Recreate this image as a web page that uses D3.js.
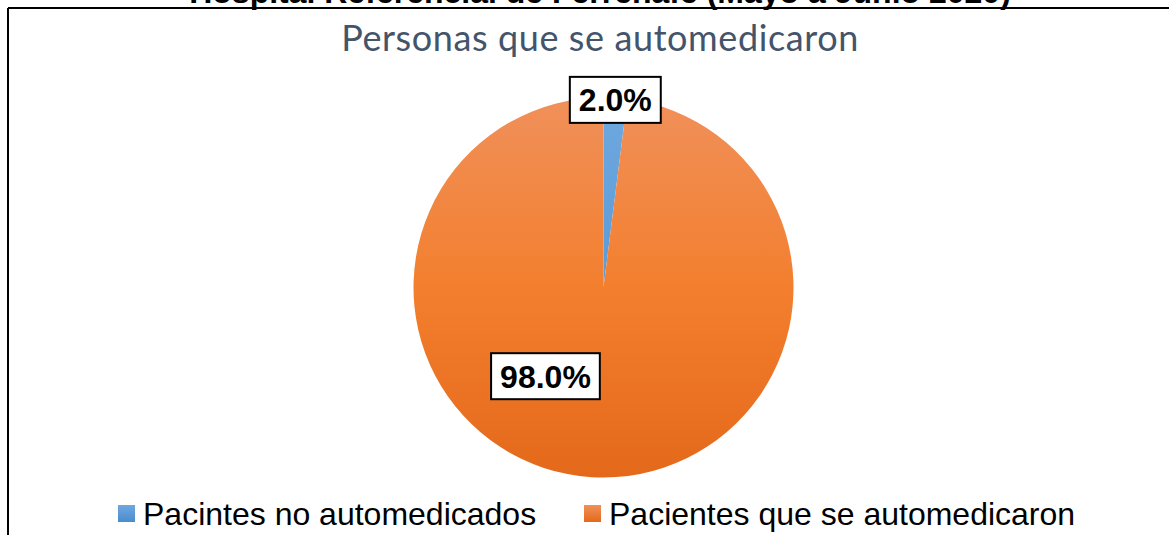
<!DOCTYPE html>
<html>
<head>
<meta charset="utf-8">
<script src="https://cdn.jsdelivr.net/npm/d3@7"></script>
<style>
  body { margin: 0; background: #fff; }
  svg { display: block; }
</style>
</head>
<body>
<svg id="canvas" width="1169" height="535"></svg>
<script>
// data
let categories = ['Pacintes no automedicados', 'Pacientes que se automedicaron']
let values = [2.0, 98.0]
let labels = ['2.0%', '98.0%']
let title = 'Hospital Referencial de Ferreñafe (Mayo a Junio 2020)'
let subtitle = 'Personas que se automedicaron'

let width = 1169, height = 535
let canvas = d3.select('#canvas')

let cx = 603.5, cy = 287.5, radius = 190

// gradients like the office chart fills
let defs = canvas.append('defs')
let grads = [
    {id: 'gBlue', top: '#6fa8df', mid: '#5b9bd8', bottom: '#4a8ccf'},
    {id: 'gOrange', top: '#f0905a', mid: '#f37f2e', bottom: '#e4691a'}
]
grads.forEach(function (g) {
    let lg = defs.append('linearGradient')
        .attr('id', g.id)
        .attr('gradientUnits', 'userSpaceOnUse')
        .attr('x1', 0).attr('y1', -radius)
        .attr('x2', 0).attr('y2', radius)
    lg.append('stop').attr('offset', '0%').attr('stop-color', g.top)
    lg.append('stop').attr('offset', '50%').attr('stop-color', g.mid)
    lg.append('stop').attr('offset', '100%').attr('stop-color', g.bottom)
})
grads.forEach(function (g) {
    let lg = defs.append('linearGradient')
        .attr('id', 'l' + g.id)
        .attr('x1', 0).attr('y1', 0).attr('x2', 0).attr('y2', 1)
    lg.append('stop').attr('offset', '0%').attr('stop-color', g.top)
    lg.append('stop').attr('offset', '100%').attr('stop-color', g.bottom)
})

let color = d3.scaleOrdinal()
    .domain(categories)
    .range(['url(#gBlue)', 'url(#gOrange)'])
let legendColor = d3.scaleOrdinal()
    .domain(categories)
    .range(['url(#lgBlue)', 'url(#lgOrange)'])

// frame (only top and left edges visible in the crop)
canvas.append('line')
    .attr('x1', 8).attr('y1', 8).attr('x2', width).attr('y2', 8)
    .attr('stroke', '#000').attr('stroke-width', 2)
canvas.append('line')
    .attr('x1', 8).attr('y1', 8).attr('x2', 8).attr('y2', height)
    .attr('stroke', '#000').attr('stroke-width', 2)

// title sits above the frame and is cut by the top edge, as in the source
canvas.append('text')
    .attr('x', 600).attr('y', 3)
    .attr('text-anchor', 'middle')
    .style('font-family', 'Liberation Sans, Arial, sans-serif')
    .style('font-weight', 'bold')
    .style('font-size', '32px')
    .text(title)

canvas.append('text')
    .attr('x', 600).attr('y', 51)
    .attr('text-anchor', 'middle')
    .style('font-family', 'Lato, sans-serif')
    .style('font-size', '36px')
    .style('letter-spacing', '0.6px')
    .style('fill', '#44546a')
    .text(subtitle)

// pie
let pie = d3.pie().sort(null).value(function (d) { return d })
let arc = d3.arc().innerRadius(0).outerRadius(radius)
let arcs = pie(values)

let g = canvas.append('g').attr('transform', 'translate(' + cx + ',' + cy + ')')
g.selectAll('path')
    .data(arcs)
    .enter()
    .append('path')
    .attr('d', arc)
    .attr('fill', function (d, i) { return color(categories[i]) })

// data labels: first on the rim, second placed inside like excel's best fit
let labelPos = [
    {angle: null, r: 188},
    {angle: 213.2 * Math.PI / 180, r: 106}
]
let labelG = g.selectAll('g.lbl')
    .data(arcs)
    .enter()
    .append('g')
    .attr('class', 'lbl')
    .attr('transform', function (d, i) {
        let p = labelPos[i]
        let a = p.angle == null ? (d.startAngle + d.endAngle) / 2 : p.angle
        return 'translate(' + (Math.sin(a) * p.r) + ',' + (-Math.cos(a) * p.r) + ')'
    })
labelG.append('text')
    .attr('text-anchor', 'middle')
    .attr('dy', '0.36em')
    .style('font-family', 'Liberation Sans, Arial, sans-serif')
    .style('font-weight', 'bold')
    .style('font-size', '32px')
    .text(function (d, i) { return labels[i] })
labelG.each(function () {
    let t = d3.select(this).select('text')
    let bb = t.node().getBBox()
    let w = bb.width + 18, h = 46
    d3.select(this).insert('rect', 'text')
        .attr('x', -w / 2).attr('y', -h / 2)
        .attr('width', w).attr('height', h)
        .attr('fill', '#fff')
        .attr('stroke', '#000')
        .attr('stroke-width', 2)
})

// legend
let legendX = [118, 584]
let legend = canvas.selectAll('g.legend')
    .data(categories)
    .enter()
    .append('g')
    .attr('class', 'legend')
    .attr('transform', function (d, i) { return 'translate(' + legendX[i] + ',505)' })
legend.append('rect')
    .attr('width', 17).attr('height', 17)
    .attr('fill', function (d) { return legendColor(d) })
legend.append('text')
    .attr('x', 25).attr('y', 20)
    .style('font-family', 'Liberation Sans, Arial, sans-serif')
    .style('font-size', '32px')
    .text(function (d) { return d })
</script>
</body>
</html>
